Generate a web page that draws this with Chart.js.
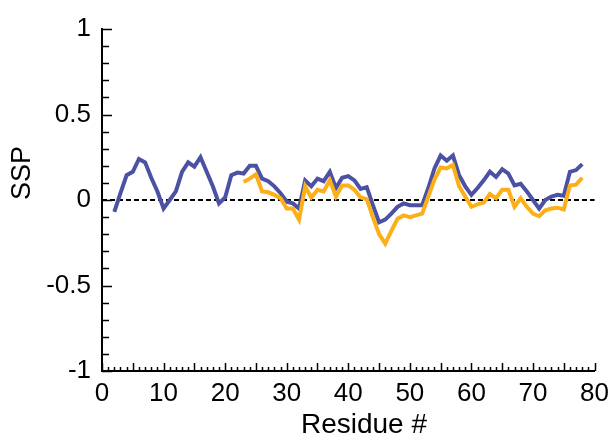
<!DOCTYPE html>
<html>
<head>
<meta charset="utf-8">
<script src="https://cdn.jsdelivr.net/npm/chart.js@4"></script>
<style>
  body { margin: 0; background: #fff; }
  #wrap { width: 616px; height: 442px; }
</style>
</head>
<body>
<div id="wrap"><canvas id="sspChart" width="616" height="442"></canvas></div>
<script>
// residue numbers and SSP values
const residues = [2,3,4,5,6,7,8,9,10,11,12,13,14,15,16,17,18,19,20,21,22,23,24,25,26,27,28,29,30,
  31,32,33,34,35,36,37,38,39,40,41,42,43,44,45,46,47,48,49,50,51,52,53,54,55,56,57,58,59,60,
  61,62,63,64,65,66,67,68,69,70,71,72,73,74,75,76,77,78];

const blueSSP = [-0.07,0.04,0.145,0.165,0.24,0.22,0.13,0.05,-0.05,0.0,0.05,0.165,0.22,0.195,0.25,0.165,0.08,-0.02,0.015,0.145,
  0.16,0.155,0.2,0.2,0.125,0.11,0.08,0.04,-0.01,-0.02,-0.05,0.115,0.08,0.125,0.11,0.165,0.07,0.13,0.14,0.115,
  0.065,0.075,-0.03,-0.13,-0.115,-0.08,-0.04,-0.02,-0.03,-0.03,-0.03,0.07,0.185,0.26,0.23,0.26,0.145,0.08,0.03,0.07,
  0.115,0.165,0.135,0.18,0.155,0.085,0.095,0.05,0.0,-0.05,0.0,0.02,0.03,0.025,0.165,0.175,0.21];

// second series starts at residue 23
const orangeSSP = [null,null,null,null,null,null,null,null,null,null,null,null,null,null,null,null,null,null,null,null,
  null,0.105,0.125,0.15,0.05,0.045,0.03,0.01,-0.05,-0.05,-0.115,0.08,0.015,0.06,0.05,0.115,0.02,0.085,0.085,0.06,
  0.015,0.005,-0.1,-0.2,-0.255,-0.18,-0.11,-0.09,-0.1,-0.09,-0.08,0.02,0.12,0.19,0.185,0.205,0.08,0.02,-0.04,-0.025,
  -0.015,0.035,0.01,0.06,0.06,-0.04,0.01,-0.04,-0.08,-0.095,-0.06,-0.05,-0.045,-0.055,0.085,0.09,0.13];

const xMin = 0, xMax = 80;
const yMin = -1, yMax = 1;
const fontFam = '"Liberation Sans", Arial, sans-serif';

function toPoints(xs, ys) {
  return xs.map((x, i) => ({ x: x, y: ys[i] }));
}

// inward tick marks on both axes + axis titles
const innerTicks = {
  id: 'innerTicks',
  afterDraw(chart) {
    const ctx = chart.ctx;
    const xs = chart.scales.x, ys = chart.scales.y;
    const left = chart.chartArea.left, bottom = chart.chartArea.bottom;
    ctx.save();
    ctx.strokeStyle = '#000';
    ctx.lineWidth = 1.5;
    ctx.beginPath();
    for (let i = 0; i <= 20; i++) {
      const v = yMin + i * 0.1;
      const py = Math.round(ys.getPixelForValue(v)) + 0.5;
      const len = (i % 5 === 0) ? 10 : 7;
      ctx.moveTo(left, py);
      ctx.lineTo(left + len, py);
    }
    for (let r = xMin; r <= xMax; r++) {
      const px = Math.round(xs.getPixelForValue(r)) + 0.5;
      const len = (r % 5 === 0) ? 8 : 4;
      ctx.moveTo(px, bottom);
      ctx.lineTo(px, bottom - len);
    }
    ctx.stroke();

    ctx.fillStyle = '#000';
    ctx.textAlign = 'center';
    ctx.textBaseline = 'middle';
    ctx.font = '28px ' + fontFam;
    ctx.fillText('Residue #', 364, 425);
    ctx.font = '27px ' + fontFam;
    ctx.translate(23, 173);
    ctx.rotate(-Math.PI / 2);
    ctx.fillText('SSP', 0, 0);
    ctx.restore();
  }
};

new Chart(document.getElementById('sspChart').getContext('2d'), {
  type: 'line',
  data: {
    datasets: [
      {
        label: 'zero',
        data: [{ x: 0, y: 0 }, { x: 80.3, y: 0 }],
        borderColor: '#000',
        borderWidth: 1.8,
        borderDash: [5, 3],
        pointRadius: 0,
        order: 3
      },
      {
        label: 'blue',
        data: toPoints(residues, blueSSP),
        borderColor: 'rgb(76,82,163)',
        borderWidth: 4,
        pointRadius: 0,
        tension: 0,
        order: 2
      },
      {
        label: 'orange',
        data: toPoints(residues, orangeSSP),
        borderColor: 'rgb(252,175,23)',
        borderWidth: 4,
        pointRadius: 0,
        tension: 0,
        spanGaps: false,
        order: 1
      }
    ]
  },
  options: {
    responsive: false,
    animation: false,
    events: [],
    layout: { padding: { left: 0, right: 20, top: 29, bottom: 0 } },
    plugins: {
      legend: { display: false },
      tooltip: { enabled: false }
    },
    scales: {
      x: {
        type: 'linear',
        min: xMin,
        max: xMax,
        afterFit(scale) { scale.height = 71; },
        grid: { display: true, drawOnChartArea: false, drawTicks: false },
        border: { display: true, color: '#000', width: 2 },
        ticks: {
          stepSize: 10,
          padding: 7,
          color: '#000',
          font: { family: fontFam, size: 26 }
        }
      },
      y: {
        type: 'linear',
        min: yMin,
        max: yMax,
        afterFit(scale) { scale.width = 102; },
        grid: { display: true, drawOnChartArea: false, drawTicks: false },
        border: { display: true, color: '#000', width: 2 },
        ticks: {
          stepSize: 0.5,
          padding: 11,
          color: '#000',
          font: { family: fontFam, size: 26 },
          callback: (v) => String(v)
        }
      }
    }
  },
  plugins: [innerTicks]
});
</script>
</body>
</html>
